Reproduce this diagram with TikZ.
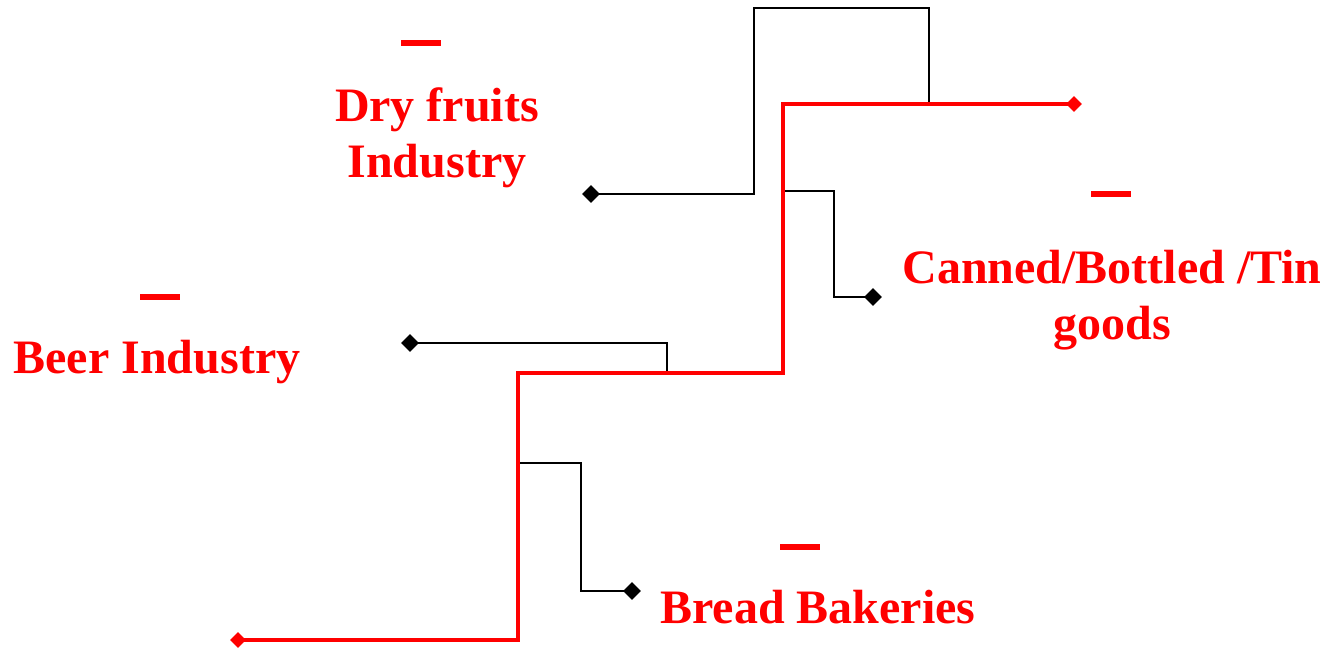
\documentclass[tikz,border=0pt]{standalone}
\usepackage{fontspec}
\setmainfont{Liberation Serif}
\usetikzlibrary{shapes.geometric}
\tikzset{
  lab/.style={text=red,font=\bfseries\fontsize{24}{28}\selectfont,align=center},
  bar/.style={fill=red,minimum width=20pt,minimum height=3pt,inner sep=0pt},
  blk/.style={diamond,fill=black,inner sep=0pt,minimum size=9pt},
  rdk/.style={diamond,fill=red,inner sep=0pt,minimum size=8pt},
  thin line/.style={black,line width=1pt},
  red line/.style={red,line width=2pt}
}
\begin{document}
\begin{tikzpicture}[x=0.5pt,y=-0.5pt]
\useasboundingbox (0,0) rectangle (1330,649);
% ends
\node[rdk] (rs) at (238,640) {};
\node[rdk] (re) at (1074,104) {};
\node[blk] (df) at (591,194) {};
\node[blk] (cn) at (873,297) {};
\node[blk] (bd) at (410,343) {};
\node[blk] (bb) at (632,591) {};
% corners
\coordinate (r1) at (518,373);
\coordinate (r2) at (783,104);
\coordinate (t1) at (754,8);
\coordinate (j1) at (929,104);
\coordinate (j2) at (783,191);
\coordinate (c1) at (834,297);
\coordinate (j3) at (667,373);
\coordinate (j4) at (518,463);
\coordinate (b1) at (581,591);
% black lines
\draw[thin line] (df.center) -| (t1) -| (j1);
\draw[thin line] (j2) -| (c1) -- (cn.center);
\draw[thin line] (bd.center) -| (j3);
\draw[thin line] (j4) -| (b1) -- (bb.center);
% red line
\draw[red line] (rs.center) -| (r1) -| (r2) -- (re.center);
% labels
\node[bar] (m1) at (421,43) {};
\node[bar] (m2) at (1111,194) {};
\node[bar] (m3) at (160,297) {};
\node[bar] (m4) at (800,547) {};
\node[lab] (l1) at (437,138) {Dry fruits\\Industry};
\node[lab] (l2) at (1112,300) {Canned/Bottled /Tin\\goods};
\node[lab] (l3) at (157,362) {Beer Industry};
\node[lab] (l4) at (818,607) {Bread Bakeries};
\end{tikzpicture}
\end{document}
